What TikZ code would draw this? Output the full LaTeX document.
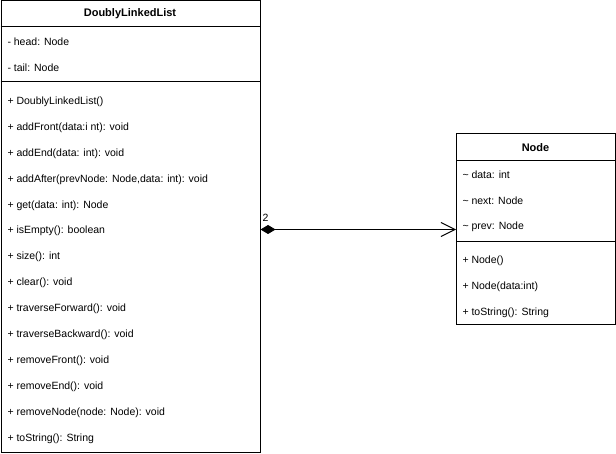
\documentclass[tikz,border=0pt]{standalone}
\usepackage{fontspec}
\setmainfont{Liberation Sans}
\usetikzlibrary{arrows.meta}
\begin{document}
\begin{tikzpicture}[x=1pt,y=-1pt,line width=1pt,
  classbox/.style={draw,rectangle,anchor=north west,inner sep=0pt,fill=white},
  title/.style={font=\fontsize{11}{13}\selectfont\bfseries,anchor=center,inner sep=0pt},
  member/.style={font=\fontsize{10.5}{13}\selectfont,anchor=west,inner sep=0pt},
  sep/.style={line width=1pt}]
\useasboundingbox (0,0) rectangle (616,454);

% DoublyLinkedList class
\node[classbox,minimum width=259pt,minimum height=451pt] (dll) at (0.5,0.5) {};
\draw[sep] (dll.north west |- 0,26.5) -- (dll.north east |- 0,26.5);
\draw[sep] (dll.north west |- 0,82) -- (dll.north east |- 0,82);
\node[title] (dllt) at (130,14) {DoublyLinkedList};
\node[member] (a1) at (7,41.5) {- head: Node};
\node[member] (a2) at (7,67.5) {- tail: Node};
\foreach \t [count=\i] in {%
  + DoublyLinkedList(),%
  + addFront(data:i nt): void,%
  + addEnd(data: int): void,%
  {+ addAfter(prevNode: Node,data: int): void},%
  + get(data: int): Node,%
  + isEmpty(): boolean,%
  + size(): int,%
  + clear(): void,%
  + traverseForward(): void,%
  + traverseBackward(): void,%
  + removeFront(): void,%
  + removeEnd(): void,%
  + removeNode(node: Node): void,%
  + toString(): String}
  \node[member] (m\i) at (7,{101.5+(\i-1)*25.95}) {\t};

% Node class
\node[classbox,minimum width=159pt,minimum height=191pt] (nd) at (456,133.5) {};
\draw[sep] (nd.north west |- 0,161) -- (nd.north east |- 0,161);
\draw[sep] (nd.north west |- 0,242) -- (nd.north east |- 0,242);
\node[title] (ndt) at (535.5,148) {Node};
\node[member] (b1) at (462,174.5) {\textasciitilde{} data: int};
\node[member] (b2) at (462,200.5) {\textasciitilde{} next: Node};
\node[member] (b3) at (462,226.5) {\textasciitilde{} prev: Node};
\node[member] (n1) at (462,260.5) {+ Node()};
\node[member] (n2) at (462,286.5) {+ Node(data:int)};
\node[member] (n3) at (462,312.5) {+ toString(): String};

% Composition: DoublyLinkedList holds Node
\coordinate (link) at (0,229.5);
\draw[{Diamond[fill=black,length=15pt,width=9pt]}-{Straight Barb[length=14pt,width=14pt]}]
  (dll.east |- link) -- (nd.west |- link);
\node[member] (mult) at (262,218) {2};
\end{tikzpicture}
\end{document}
